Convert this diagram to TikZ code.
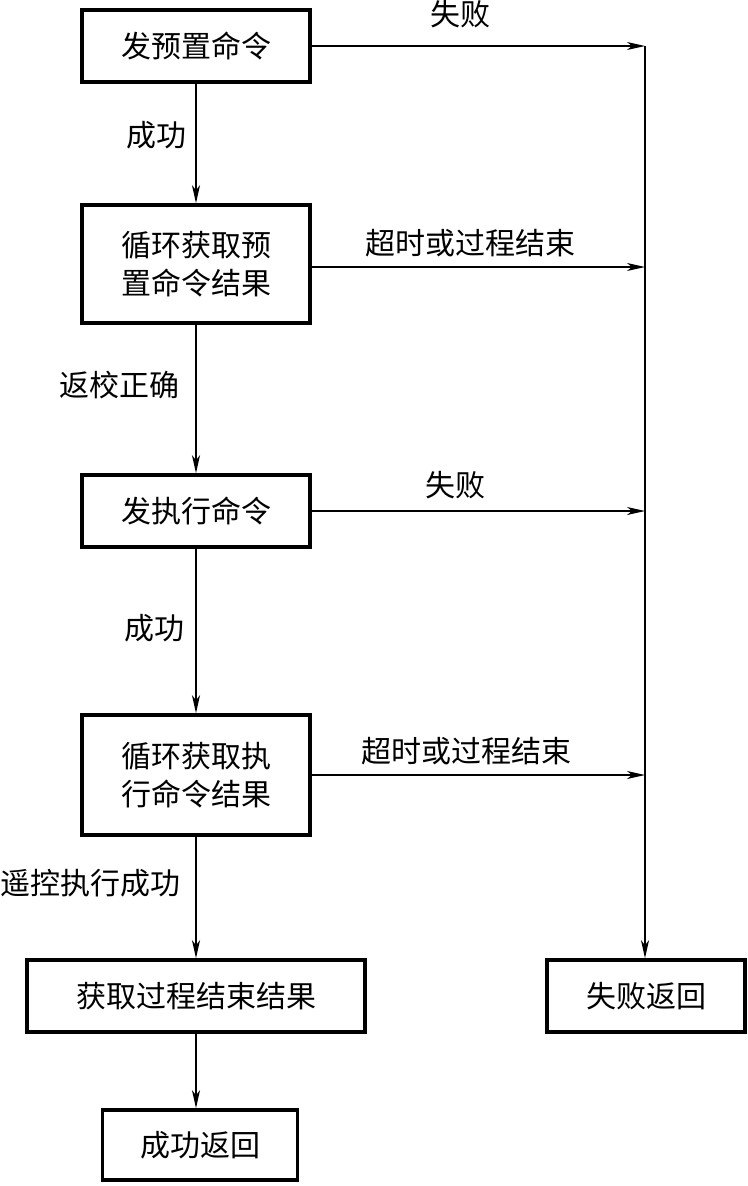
\documentclass[tikz,border=0pt]{standalone}
\usepackage{fontspec}
\setmainfont{Noto Sans CJK SC}
\usetikzlibrary{arrows.meta}
\begin{document}
\begin{tikzpicture}[x=1pt,y=-1pt,
  box/.style={draw,line width=3.6pt,rectangle,inner sep=0pt,align=center,
    font=\fontsize{30}{38}\selectfont},
  lbl/.style={font=\fontsize{30}{38}\selectfont,inner sep=0pt},
  conn/.style={line width=1.4pt,-{Stealth[length=18pt,width=8pt,inset=5pt]}},
  plain/.style={line width=1.4pt}]
\useasboundingbox (0,0) rectangle (747,1186);
\node[box,minimum width=228pt,minimum height=72pt] (b1) at (196,46) {发预置命令};
\node[box,minimum width=228pt,minimum height=118pt] (b2) at (196,264) {循环获取预\\置命令结果};
\node[box,minimum width=228pt,minimum height=72pt] (b3) at (196,511) {发执行命令};
\node[box,minimum width=228pt,minimum height=120pt] (b4) at (196,775) {循环获取执\\行命令结果};
\node[box,minimum width=338pt,minimum height=72pt] (b5) at (196,996) {获取过程结束结果};
\node[box,minimum width=195pt,minimum height=70pt] (b6) at (200,1145) {成功返回};
\node[box,minimum width=198pt,minimum height=72pt] (b7) at (646,996) {失败返回};
\coordinate (j1) at (645,46);
\coordinate (j2) at (645,267);
\coordinate (j3) at (645,511);
\coordinate (j4) at (645,775);
\draw[conn] (b1.east) -- (j1);
\draw[conn] (b2.east |- j2) -- (j2);
\draw[conn] (b3.east) -- (j3);
\draw[conn] (b4.east) -- (j4);
\draw[conn] (j1) -- (b7.north -| j1);
\draw[conn] (b1) -- (b2);
\draw[conn] (b2) -- (b3);
\draw[conn] (b3) -- (b4);
\draw[conn] (b4) -- (b5);
\draw[conn] (b5.south) -- (b5.south |- b6.north);
\node[lbl] (l1) at (460,14) {失败};
\node[lbl] (l2) at (470,243) {超时或过程结束};
\node[lbl] (l3) at (455,485) {失败};
\node[lbl] (l4) at (466,751) {超时或过程结束};
\node[lbl] (l5) at (156,135) {成功};
\node[lbl] (l6) at (119,385) {返校正确};
\node[lbl] (l7) at (154,628) {成功};
\node[lbl] (l8) at (91,883) {遥控执行成功};
\end{tikzpicture}
\end{document}
